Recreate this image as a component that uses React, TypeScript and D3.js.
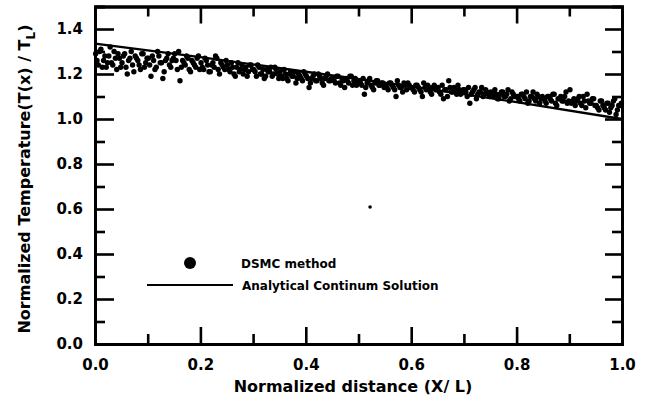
import React, { useRef, useEffect } from "react";
import * as d3 from "d3";

const width = 649;
const height = 402;
const margin = { left: 95, right: 27, top: 6.5, bottom: 58 };

// DSMC cell temperatures, first sampling (cells evenly spaced over 0..1)
const dsmcValues = [
  1.29, 1.24, 1.31, 1.26, 1.23, 1.28, 1.25, 1.30, 1.22, 1.27,
  1.25, 1.29, 1.20, 1.27, 1.24, 1.28, 1.26, 1.22, 1.29, 1.25,
  1.27, 1.19, 1.26, 1.23, 1.28, 1.25, 1.21, 1.27, 1.24, 1.26,
  1.29, 1.22, 1.17, 1.26, 1.24, 1.27, 1.21, 1.25, 1.23, 1.28,
  1.25, 1.22, 1.26, 1.21, 1.24, 1.23, 1.27, 1.20, 1.24, 1.22,
  1.24, 1.21, 1.23, 1.19, 1.25, 1.22, 1.20, 1.23, 1.21, 1.24,
  1.22, 1.19, 1.23, 1.20, 1.18, 1.22, 1.21, 1.19, 1.23, 1.20,
  1.21, 1.18, 1.20, 1.17, 1.21, 1.19, 1.16, 1.20, 1.18, 1.21,
  1.19, 1.14, 1.18, 1.20, 1.17, 1.19, 1.16, 1.18, 1.20, 1.17,
  1.18, 1.16, 1.19, 1.15, 1.17, 1.18, 1.16, 1.19, 1.17, 1.15,
  1.17, 1.15, 1.11, 1.16, 1.18, 1.14, 1.16, 1.17, 1.15, 1.16,
  1.15, 1.13, 1.16, 1.14, 1.10, 1.15, 1.14, 1.16, 1.13, 1.15,
  1.14, 1.12, 1.15, 1.13, 1.10, 1.14, 1.15, 1.12, 1.14, 1.13,
  1.14, 1.11, 1.09, 1.13, 1.17, 1.12, 1.14, 1.11, 1.13, 1.12,
  1.13, 1.10, 1.07, 1.12, 1.14, 1.11, 1.12, 1.10, 1.13, 1.11,
  1.12, 1.10, 1.11, 1.09, 1.12, 1.10, 1.11, 1.08, 1.12, 1.10,
  1.10, 1.08, 1.11, 1.09, 1.07, 1.10, 1.12, 1.08, 1.10, 1.09,
  1.09, 1.07, 1.10, 1.08, 1.11, 1.06, 1.09, 1.08, 1.10, 1.07,
  1.13, 1.08, 1.06, 1.09, 1.07, 1.10, 1.05, 1.08, 1.07, 1.09,
  1.06, 1.04, 1.08, 1.05, 1.07, 1.03, 1.06, 1.09, 1.04, 1.06,
];

// second sampling, offset by half a cell
const dsmcValuesB = [
  1.26, 1.30, 1.23, 1.28, 1.25, 1.32, 1.24, 1.27, 1.29, 1.23,
  1.28, 1.23, 1.26, 1.30, 1.21, 1.27, 1.24, 1.29, 1.23, 1.27,
  1.24, 1.28, 1.22, 1.30, 1.25, 1.18, 1.26, 1.29, 1.23, 1.27,
  1.26, 1.30, 1.23, 1.25, 1.28, 1.22, 1.26, 1.24, 1.27, 1.22,
  1.23, 1.27, 1.24, 1.21, 1.25, 1.28, 1.22, 1.25, 1.23, 1.26,
  1.22, 1.25, 1.20, 1.23, 1.21, 1.24, 1.22, 1.19, 1.24, 1.22,
  1.21, 1.24, 1.20, 1.22, 1.19, 1.21, 1.23, 1.20, 1.22, 1.18,
  1.19, 1.22, 1.18, 1.20, 1.19, 1.21, 1.18, 1.19, 1.17, 1.20,
  1.18, 1.16, 1.19, 1.17, 1.20, 1.18, 1.15, 1.19, 1.17, 1.18,
  1.17, 1.19, 1.16, 1.18, 1.14, 1.17, 1.19, 1.15, 1.18, 1.16,
  1.16, 1.18, 1.14, 1.17, 1.15, 1.13, 1.17, 1.15, 1.16, 1.14,
  1.14, 1.16, 1.15, 1.13, 1.17, 1.14, 1.12, 1.15, 1.16, 1.14,
  1.13, 1.15, 1.14, 1.12, 1.16, 1.13, 1.14, 1.11, 1.15, 1.13,
  1.12, 1.15, 1.13, 1.10, 1.14, 1.12, 1.13, 1.15, 1.11, 1.13,
  1.12, 1.14, 1.11, 1.13, 1.09, 1.12, 1.14, 1.11, 1.12, 1.10,
  1.11, 1.13, 1.09, 1.11, 1.12, 1.10, 1.13, 1.09, 1.11, 1.10,
  1.09, 1.11, 1.10, 1.12, 1.08, 1.10, 1.09, 1.11, 1.07, 1.10,
  1.08, 1.10, 1.09, 1.11, 1.07, 1.09, 1.10, 1.08, 1.12, 1.08,
  1.07, 1.09, 1.08, 1.10, 1.06, 1.08, 1.11, 1.07, 1.09, 1.06,
  1.05, 1.08, 1.06, 1.04, 1.07, 1.05, 1.08, 1.02, 1.06, 1.07,
];

// analytical continuum solution
const analyticX = [0, 0.2, 0.4, 0.6, 0.8, 1.0];
const analyticY = [1.335, 1.275, 1.21, 1.145, 1.075, 1.0];

// stray mark in the middle of the plot
const strayPoint = [0.522, 0.609];

const xMajor = [0, 0.2, 0.4, 0.6, 0.8, 1.0];
const xMinor = [0.1, 0.3, 0.5, 0.7, 0.9];
const yMajor = [0, 0.2, 0.4, 0.6, 0.8, 1.0, 1.2, 1.4];
const yMinor = [0.1, 0.3, 0.5, 0.7, 0.9, 1.1, 1.3];

const legendLabels = ["DSMC method", "Analytical Continum Solution"];

const font = "'DejaVu Sans', Arial, sans-serif";

function App() {
  const svgRef = useRef<SVGSVGElement>(null);

  useEffect(() => {
    const svg = d3.select(svgRef.current);
    svg.selectAll("*").remove();

    const x = d3.scaleLinear().domain([0, 1]).range([margin.left, width - margin.right]);
    const y = d3.scaleLinear().domain([0, 1.5]).range([height - margin.bottom, margin.top]);
    const fmt = d3.format(".1f");

    const styleAxis = (g: any) => {
      g.select(".domain").attr("stroke", "#000").attr("stroke-width", 3);
      g.selectAll(".tick line").attr("stroke", "#000").attr("stroke-width", 2.6);
      g.selectAll(".tick text")
        .attr("fill", "#000")
        .style("font-family", font)
        .style("font-weight", "bold")
        .style("font-size", "15px");
    };

    const bottom = height - margin.bottom;
    const right = width - margin.right;

    // minor ticks first
    svg.append("g").attr("transform", `translate(0,${bottom})`)
      .call(d3.axisBottom(x).tickValues(xMinor).tickSize(-10).tickFormat(() => "")).call(styleAxis);
    svg.append("g").attr("transform", `translate(0,${margin.top})`)
      .call(d3.axisTop(x).tickValues(xMinor).tickSize(-10).tickFormat(() => "")).call(styleAxis);
    svg.append("g").attr("transform", `translate(${margin.left},0)`)
      .call(d3.axisLeft(y).tickValues(yMinor).tickSize(-10).tickFormat(() => "")).call(styleAxis);
    svg.append("g").attr("transform", `translate(${right},0)`)
      .call(d3.axisRight(y).tickValues(yMinor).tickSize(-10).tickFormat(() => "")).call(styleAxis);

    // major ticks
    svg.append("g").attr("transform", `translate(0,${bottom})`)
      .call(d3.axisBottom(x).tickValues(xMajor).tickSizeInner(-17).tickSizeOuter(0).tickPadding(15).tickFormat((d: any) => fmt(d)))
      .call(styleAxis);
    svg.append("g").attr("transform", `translate(0,${margin.top})`)
      .call(d3.axisTop(x).tickValues(xMajor).tickSizeInner(-17).tickSizeOuter(0).tickFormat(() => ""))
      .call(styleAxis);
    svg.append("g").attr("transform", `translate(${margin.left},0)`)
      .call(d3.axisLeft(y).tickValues(yMajor).tickSizeInner(-19).tickSizeOuter(0).tickPadding(12).tickFormat((d: any) => fmt(d)))
      .call(styleAxis);
    svg.append("g").attr("transform", `translate(${right},0)`)
      .call(d3.axisRight(y).tickValues(yMajor).tickSizeInner(-17).tickSizeOuter(0).tickFormat(() => ""))
      .call(styleAxis);

    // analytical line
    const line = d3.line<number>()
      .x((_, i) => x(analyticX[i]))
      .y((d) => y(d));
    svg.append("path")
      .datum(analyticY)
      .attr("d", line)
      .attr("fill", "none")
      .attr("stroke", "#000")
      .attr("stroke-width", 2.4);

    // DSMC points
    const n = dsmcValues.length;
    const dots = svg.append("g").attr("fill", "#000");
    dots.selectAll("circle.a")
      .data(dsmcValues)
      .join("circle")
      .attr("class", "a")
      .attr("cx", (_, i) => x((i + 0.25) / n))
      .attr("cy", (d) => y(d))
      .attr("r", 2.7);
    dots.selectAll("circle.b")
      .data(dsmcValuesB)
      .join("circle")
      .attr("class", "b")
      .attr("cx", (_, i) => x((i + 0.75) / n))
      .attr("cy", (d) => y(d))
      .attr("r", 2.7);

    svg.append("circle")
      .attr("cx", x(strayPoint[0]))
      .attr("cy", y(strayPoint[1]))
      .attr("r", 1.8)
      .attr("fill", "#000");

    // legend
    const leg = svg.append("g").style("font-family", font).style("font-weight", "bold").style("font-size", "12px");
    leg.append("circle").attr("cx", 190).attr("cy", 263).attr("r", 6).attr("fill", "#000");
    leg.append("text").attr("x", 241).attr("y", 268).text(legendLabels[0]);
    leg.append("line").attr("x1", 147).attr("x2", 233).attr("y1", 285).attr("y2", 285)
      .attr("stroke", "#000").attr("stroke-width", 2);
    leg.append("text").attr("x", 242).attr("y", 290).text(legendLabels[1]);

    // axis titles
    svg.append("text")
      .attr("x", 353)
      .attr("y", 392)
      .attr("text-anchor", "middle")
      .style("font-family", font)
      .style("font-weight", "bold")
      .style("font-size", "16px")
      .text("Normalized distance (X/ L)");

    const yt = svg.append("text")
      .attr("transform", `translate(30,179) rotate(-90)`)
      .attr("text-anchor", "middle")
      .style("font-family", font)
      .style("font-weight", "bold")
      .style("font-size", "16px");
    yt.append("tspan").text("Normalized Temperature(T(x) / T");
    yt.append("tspan").attr("dy", 5).style("font-size", "12px").text("L");
    yt.append("tspan").attr("dy", -5).text(")");
  }, []);

  return (
    <svg
      ref={svgRef}
      width={width}
      height={height}
      style={{ position: "absolute", left: 0, top: 0, background: "#fff" }}
    />
  );
}

export default App;
